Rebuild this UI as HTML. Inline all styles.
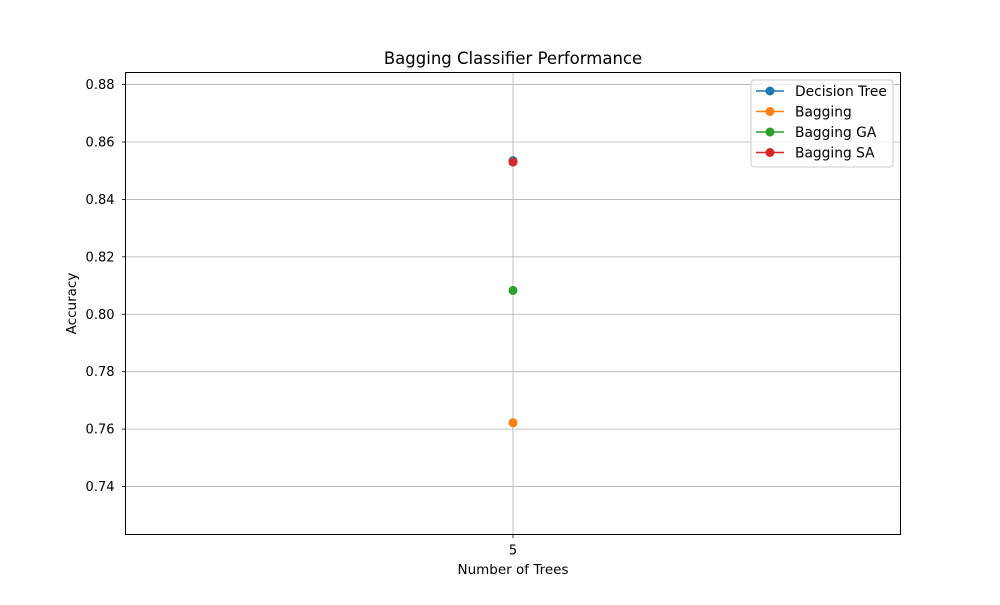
<!DOCTYPE html>
<html><head><meta charset="utf-8"><style>
body{margin:0;background:#fff;font-family:"Liberation Sans","DejaVu Sans",sans-serif;}
svg text{font-family:"DejaVu Sans","Liberation Sans",sans-serif;}
</style></head><body>
<svg id="chart" width="1000" height="600" xmlns="http://www.w3.org/2000/svg">
<rect width="1000" height="600" fill="#fff"/>
<g id="grid"></g><g id="axes"></g><g id="marks"></g><g id="legend"></g>
</svg>
<script>
const categories = [5];
const seriesNames = ["Decision Tree","Bagging","Bagging GA","Bagging SA"];
const seriesValues = [[0.8535],[0.7622],[0.8083],[0.853]];
const yTicks = [0.74,0.76,0.78,0.80,0.82,0.84,0.86,0.88];
const colors = ["#1f77b4","#ff7f0e","#2ca02c","#d62728"];
const NS="http://www.w3.org/2000/svg";
const L=125.5,R=900.5,T=72.5,B=534.5;
const yMin=0.7233,yMax=0.8842;
const y=v=>B-(v-yMin)/(yMax-yMin)*(B-T);
const x=i=>(L+R)/2;
function mk(tag,attrs,parent,text){const e=document.createElementNS(NS,tag);for(const k in attrs)e.setAttribute(k,attrs[k]);if(text!==undefined)e.textContent=text;parent.appendChild(e);return e;}
const grid=document.getElementById('grid'),axes=document.getElementById('axes'),marks=document.getElementById('marks'),leg=document.getElementById('legend');
yTicks.forEach(t=>{
 const g=mk('line',{x1:L,x2:R,y1:y(t),y2:y(t),stroke:'#b0b0b0','stroke-width':0.8},grid);
 
 
 mk('line',{x1:L-3.5,x2:L,y1:y(t),y2:y(t),stroke:'#000','stroke-width':0.8},axes);
 const tl=mk('text',{x:L-11,y:y(t)+4.5,'text-anchor':'end','font-size':13},axes,t.toFixed(2));
 
 
});
categories.forEach((c,i)=>{
 const g=mk('line',{x1:x(i),x2:x(i),y1:T,y2:B,stroke:'#b0b0b0','stroke-width':0.8},grid);
 
 
 mk('line',{x1:x(i),x2:x(i),y1:B,y2:B+3.5,stroke:'#000','stroke-width':0.8},axes);
 const tl=mk('text',{x:x(i),y:B+20,'text-anchor':'middle','font-size':13},axes,String(c));
 
 
});
const fr=mk('rect',{x:L,y:T,width:R-L,height:B-T,fill:'none',stroke:'#000','stroke-width':1},axes);


const ti=mk('text',{x:(L+R)/2,y:64,'text-anchor':'middle','font-size':16.5},axes,'Bagging Classifier Performance');


const xt=mk('text',{x:(L+R)/2,y:574,'text-anchor':'middle','font-size':13.5},axes,'Number of Trees');


const yt=mk('text',{x:0,y:0,'text-anchor':'middle','font-size':13.5,transform:`translate(76,${(T+B)/2}) rotate(-90)`},axes,'Accuracy');


seriesValues.forEach((vals,s)=>{
 vals.forEach((v,i)=>{
  const p=mk('circle',{cx:x(i),cy:y(v),r:4.5,fill:colors[s]},marks);
  
  
 });
});
const lb=mk('rect',{x:751,y:80,width:142,height:87,rx:3,fill:'#fff','fill-opacity':0.8,stroke:'#ccc','stroke-width':1},leg);


seriesNames.forEach((n,s)=>{
 const yy=91+s*20.5;
 const g=mk('g',{},leg);
 
 
 mk('line',{x1:756,x2:784,y1:yy,y2:yy,stroke:colors[s],'stroke-width':1.5},g);
 mk('circle',{cx:770,cy:yy,r:4.5,fill:colors[s]},g);
 mk('text',{x:795,y:yy+5,'font-size':13.8},g,n);
});
</script>
</body></html>
